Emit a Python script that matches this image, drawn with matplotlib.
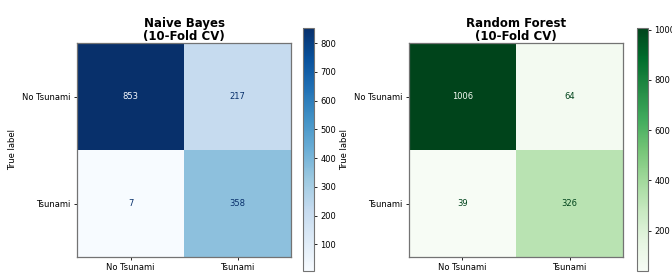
import matplotlib
matplotlib.use("Agg")
import matplotlib.pyplot as plt
import numpy as np

# confusion matrices (rows = true, cols = predicted)
labels = ["No Tsunami", "Tsunami"]
nb_cm = np.array([[853, 217], [7, 358]])
rf_cm = np.array([[1006, 64], [39, 326]])

fig = plt.figure(figsize=(6.72, 2.73), dpi=100)

panels = [
    (nb_cm, "Blues", "Naive Bayes\n(10-Fold CV)", [77, 303], [100, 200, 300, 400, 500, 600, 700, 800]),
    (rf_cm, "Greens", "Random Forest\n(10-Fold CV)", [409, 637], [200, 400, 600, 800, 1000]),
]

W, H = 672, 273
for cm, cmap_name, title, (ax_x, cb_x), cticks in panels:
    ax = fig.add_axes([ax_x / W, 1 - 257 / H, 214 / W, 214 / H])
    cax = fig.add_axes([cb_x / W, 1 - 271 / H, 11 / W, 243 / H])
    cmap = plt.get_cmap(cmap_name)
    im = ax.imshow(cm, cmap=cmap, vmin=cm.min(), vmax=cm.max(), aspect="auto")

    thresh = (cm.max() + cm.min()) / 2
    for i in range(2):
        for j in range(2):
            color = cmap(0.0) if cm[i, j] > thresh else cmap(1.0)
            ax.text(j, i, str(cm[i, j]), ha="center", va="center", fontsize=6, color=color)

    ax.set_xticks(range(2))
    ax.set_xticklabels(labels, fontsize=6)
    ax.set_yticks(range(2))
    ax.set_yticklabels(labels, fontsize=6)
    ax.tick_params(length=2.5, width=0.6, pad=2)
    ax.set_ylabel("True label", fontsize=6, labelpad=4)
    ax.set_title(title, fontsize=8.5, fontweight="bold", pad=2, linespacing=1.0)
    for sp in ax.spines.values():
        sp.set_color("0.45")
        sp.set_linewidth(0.9)

    cb = fig.colorbar(im, cax=cax)
    cb.set_ticks(cticks)
    cb.ax.tick_params(labelsize=6, length=2.5, width=0.6, pad=2)
    cb.outline.set_edgecolor("0.45")
    cb.outline.set_linewidth(0.8)

fig.savefig("out.png", dpi=100)
